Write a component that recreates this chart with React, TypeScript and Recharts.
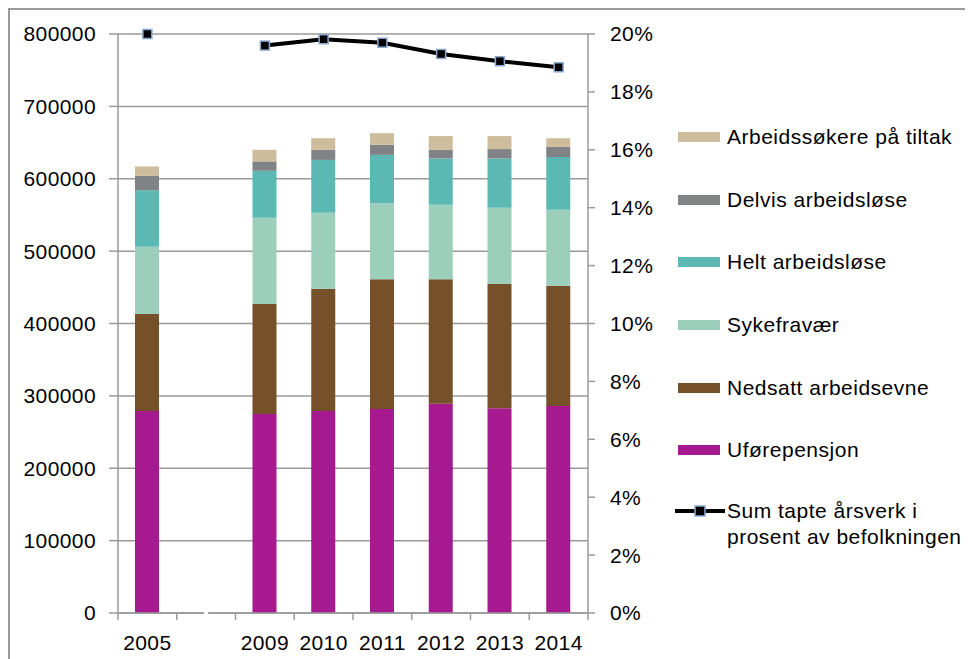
import { Bar, CartesianGrid, ComposedChart, Line, XAxis, YAxis } from "recharts";

const years = ["2005", "", "2009", "2010", "2011", "2012", "2013", "2014"];

const uforepensjon = [279000, null, 275000, 279000, 282000, 289000, 283000, 286000];
const nedsattArbeidsevne = [134000, null, 152000, 169000, 179000, 172000, 172000, 166000];
const sykefravaer = [93000, null, 119000, 105000, 105000, 103000, 105000, 105000];
const heltArbeidslose = [78000, null, 65000, 73000, 67000, 64000, 68000, 73000];
const delvisArbeidslose = [20000, null, 13000, 14000, 14000, 12000, 13000, 14000];
const tiltak = [13000, null, 16000, 16000, 16000, 19000, 18000, 12000];
const tapteArsverk = [0.2, null, 0.196, 0.1982, 0.197, 0.1931, 0.1906, 0.1885];

const leftTicks = [0, 100000, 200000, 300000, 400000, 500000, 600000, 700000, 800000];
const rightTicks = [0, 0.02, 0.04, 0.06, 0.08, 0.1, 0.12, 0.14, 0.16, 0.18, 0.2];

const series = [
  { key: "tiltak", label: "Arbeidssøkere på tiltak", color: "#cdbd9c", values: tiltak },
  { key: "delvis", label: "Delvis arbeidsløse", color: "#808285", values: delvisArbeidslose },
  { key: "helt", label: "Helt arbeidsløse", color: "#5bb8b3", values: heltArbeidslose },
  { key: "syke", label: "Sykefravær", color: "#9ccfbb", values: sykefravaer },
  { key: "nedsatt", label: "Nedsatt arbeidsevne", color: "#765028", values: nedsattArbeidsevne },
  { key: "ufore", label: "Uførepensjon", color: "#a6198f", values: uforepensjon },
];

const lineLabel = "Sum tapte årsverk i prosent av befolkningen";

const data = years.map((year, i) => {
  const row: Record<string, string | number | null> = { year, pct: tapteArsverk[i] };
  series.forEach((s) => (row[s.key] = s.values[i]));
  return row;
});

const font = "'Liberation Sans', Arial, sans-serif";
const tickStyle = { fontSize: 21, fill: "#000", letterSpacing: 0.4, fontFamily: font };
const axisGray = "#9a9a9a";

function YearTick(props: any) {
  const { x, y, payload, index } = props;
  const half = payload?.offset ?? 29.4;
  return (
    <g>
      <line x1={x - half} x2={x - half} y1={y} y2={y + 7} stroke={axisGray} strokeWidth={1.5} />
      {index === years.length - 1 && (
        <line x1={x + half} x2={x + half} y1={y} y2={y + 7} stroke={axisGray} strokeWidth={1.5} />
      )}
      {payload.value === "" && <rect x={x - 2} y={y - 2} width={4} height={4} fill="#fff" />}
      <text x={x} y={y + 29} textAnchor="middle" dominantBaseline="central" {...tickStyle}>
        {payload.value}
      </text>
    </g>
  );
}

function SquareDot(props: any) {
  const { cx, cy, value } = props;
  if (value == null || cx == null || cy == null) return null;
  return <rect x={cx - 4.5} y={cy - 4.5} width={9} height={9} fill="#000" stroke="#8ea9d0" strokeWidth={1.5} />;
}

function ChartLegend() {
  const text = { fontSize: 21, letterSpacing: 0.5, lineHeight: "26px", color: "#000", fontFamily: font };
  return (
    <div style={{ position: "absolute", left: 668, top: 96 }}>
      {series.map((s) => (
        <div key={s.key} style={{ display: "flex", height: 62.7, paddingTop: 18, boxSizing: "border-box" }}>
          <span style={{ width: 42, height: 10, marginTop: 8, background: s.color, marginRight: 7 }} />
          <span style={{ ...text, whiteSpace: "nowrap" }}>{s.label}</span>
        </div>
      ))}
      <div style={{ display: "flex", paddingTop: 16 }}>
        <svg width={50} height={12} style={{ marginTop: 7, marginLeft: -3, marginRight: 2 }}>
          <line x1={0} x2={50} y1={6} y2={6} stroke="#000" strokeWidth={4} />
          <rect x={20} y={1} width={10} height={10} fill="#000" stroke="#8ea9d0" strokeWidth={1.5} />
        </svg>
        <span style={{ ...text, width: 260 }}>
          Sum tapte årsverk i
          <br />
          prosent av befolkningen
        </span>
      </div>
    </div>
  );
}

export default function App() {
  return (
    <div
      style={{
        position: "relative",
        width: 965,
        height: 651,
        borderTop: `2px solid ${axisGray}`,
        borderLeft: `2px solid ${axisGray}`,
        background: "#fff",
        fontFamily: font,
      }}
    >
      <ComposedChart
        width={960}
        height={649}
        data={data}
        margin={{ top: 24, right: 322, bottom: 6, left: 0 }}
        barSize={24}
      >
        <CartesianGrid yAxisId="left" vertical={false} stroke={axisGray} strokeWidth={1.5} />
        <XAxis
          dataKey="year"
          interval={0}
          tickLine={false}
          tickSize={0}
          tickMargin={0}
          height={40}
          stroke={axisGray}
          strokeWidth={1.5}
          tick={<YearTick />}
        />
        <YAxis
          yAxisId="left"
          width={108}
          domain={[0, 800000]}
          ticks={leftTicks}
          interval={0}
          tickSize={9}
          tickMargin={13}
          stroke={axisGray}
          strokeWidth={1.5}
          tick={tickStyle}
        />
        <YAxis
          yAxisId="pct"
          orientation="right"
          width={60}
          domain={[0, 0.2]}
          ticks={rightTicks}
          interval={0}
          tickSize={7}
          tickMargin={15}
          stroke={axisGray}
          strokeWidth={1.5}
          tick={{ ...tickStyle, textAnchor: "start" }}
          tickFormatter={(v: number) => `${Math.round(v * 100)}%`}
        />
        {[...series].reverse().map((s) => (
          <Bar key={s.key} yAxisId="left" dataKey={s.key} name={s.label} stackId="a" fill={s.color} isAnimationActive={false} />
        ))}
        <Line
          yAxisId="pct"
          dataKey="pct"
          name={lineLabel}
          stroke="#000"
          strokeWidth={4}
          dot={<SquareDot />}
          activeDot={false}
          connectNulls={false}
          isAnimationActive={false}
        />
      </ComposedChart>
      <ChartLegend />
    </div>
  );
}
